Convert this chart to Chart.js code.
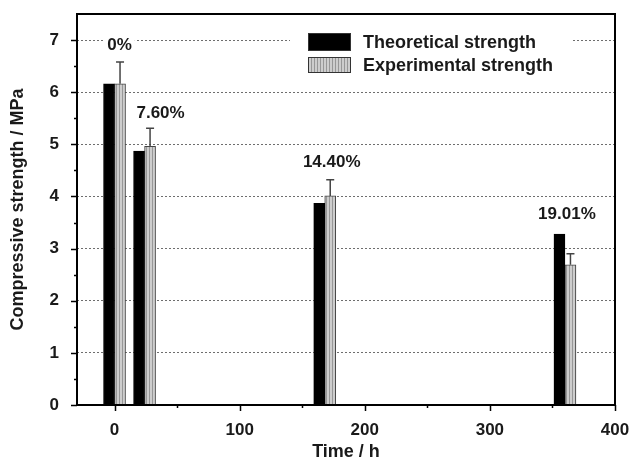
<!DOCTYPE html>
<html>
<head>
<meta charset="utf-8">
<script src="https://cdn.jsdelivr.net/npm/chart.js@4.4.0/dist/chart.umd.min.js"></script>
<style>
  html, body { margin: 0; padding: 0; background: #fff; }
</style>
</head>
<body>
<canvas id="strengthChart" width="633" height="463"></canvas>
<script>
// values
const timeHours = [0, 24, 168, 360];
const theoretical = [6.16, 4.87, 3.87, 3.28];
const experimental = [6.16, 4.96, 4.01, 2.69];
const expError = [0.42, 0.35, 0.31, 0.21];
const lossLabels = ['0%', '7.60%', '14.40%', '19.01%'];
const seriesNames = ['Theoretical strength', 'Experimental strength'];
const xTickValues = [0, 50, 100, 150, 200, 250, 300, 350, 400];

const FONT = 'Arial, "Liberation Sans", sans-serif';

// light grey with fine vertical hatching, like the printed bars
function makeHatch() {
  const c = document.createElement('canvas');
  c.width = 3; c.height = 1;
  const g = c.getContext('2d');
  g.fillStyle = '#cdcdcd';
  g.fillRect(0, 0, 3, 1);
  g.fillStyle = '#979797';
  g.fillRect(2, 0, 1, 1);
  return g.createPattern(c, 'repeat');
}

const decor = {
  id: 'decor',
  afterDatasetsDraw(chart) {
    const ctx = chart.ctx;
    const y = chart.scales.y;
    const meta = chart.getDatasetMeta(1);
    ctx.save();
    ctx.strokeStyle = '#444';
    ctx.lineWidth = 1.5;
    meta.data.forEach((bar, i) => {
      const top = y.getPixelForValue(experimental[i] + expError[i]);
      ctx.beginPath();
      ctx.moveTo(bar.x, bar.y);
      ctx.lineTo(bar.x, top);
      ctx.moveTo(bar.x - 4, top);
      ctx.lineTo(bar.x + 4, top);
      ctx.stroke();
    });
    ctx.restore();
  },
  afterDraw(chart) {
    const ctx = chart.ctx;
    const area = chart.chartArea;
    const x = chart.scales.x;
    const y = chart.scales.y;
    ctx.save();

    // percentage labels above each group
    const shift = [[5, -17], [16, -15], [7, -17], [2, -20]];
    ctx.font = 'bold 17px ' + FONT;
    ctx.textAlign = 'center';
    ctx.textBaseline = 'middle';
    lossLabels.forEach((txt, i) => {
      const top = Math.max(theoretical[i], experimental[i] + expError[i]);
      const px = x.getPixelForValue(timeHours[i]) + shift[i][0];
      const py = y.getPixelForValue(top) + shift[i][1];
      const w = ctx.measureText(txt).width;
      ctx.fillStyle = '#fff';
      ctx.fillRect(px - w / 2 - 3, py - 9, w + 6, 18);
      ctx.fillStyle = '#1a1a1a';
      ctx.fillText(txt, px, py);
    });

    // legend
    ctx.fillStyle = '#fff';
    ctx.fillRect(290, 27, 282, 52);
    const boxes = chart.data.datasets;
    boxes.forEach((ds, i) => {
      const by = i === 0 ? 33 : 57;
      const bh = i === 0 ? 18 : 16;
      ctx.fillStyle = ds.backgroundColor;
      ctx.fillRect(308, by, 43, bh);
      ctx.strokeStyle = '#333';
      ctx.lineWidth = 1;
      ctx.strokeRect(308.5, by + 0.5, 42, bh - 1);
      ctx.fillStyle = '#1a1a1a';
      ctx.font = 'bold 18px ' + FONT;
      ctx.textAlign = 'left';
      ctx.fillText(ds.label, 363, by + bh / 2 + 1);
    });

    // tick marks: long at labelled values, short in between
    ctx.strokeStyle = '#000';
    ctx.lineWidth = 1.5;
    ctx.beginPath();
    for (let v = 0; v <= 7; v += 0.5) {
      const py = Math.round(y.getPixelForValue(v)) + 0.5;
      const len = Number.isInteger(v) ? 6 : 3;
      ctx.moveTo(area.left - len, py);
      ctx.lineTo(area.left, py);
    }
    xTickValues.forEach(v => {
      const px = Math.round(x.getPixelForValue(v)) + 0.5;
      const len = v % 100 === 0 ? 6 : 3;
      ctx.moveTo(px, area.bottom);
      ctx.lineTo(px, area.bottom + len);
    });
    ctx.stroke();

    // frame
    ctx.lineWidth = 2;
    ctx.strokeRect(area.left, area.top, area.right - area.left, area.bottom - area.top);
    ctx.restore();
  }
};

const hatch = makeHatch();

new Chart(document.getElementById('strengthChart'), {
  type: 'bar',
  data: {
    datasets: [
      {
        label: seriesNames[0],
        data: timeHours.map((t, i) => ({ x: t, y: theoretical[i] })),
        backgroundColor: '#000',
        borderColor: '#000',
        borderWidth: 1,
        barThickness: 11
      },
      {
        label: seriesNames[1],
        data: timeHours.map((t, i) => ({ x: t, y: experimental[i] })),
        backgroundColor: hatch,
        borderColor: '#444',
        borderWidth: 1,
        barThickness: 11
      }
    ]
  },
  options: {
    responsive: false,
    animation: false,
    layout: { padding: { top: 14, right: 18, left: 0, bottom: 0 } },
    plugins: { legend: { display: false }, tooltip: { enabled: false } },
    scales: {
      x: {
        type: 'linear',
        min: -30,
        max: 400,
        offset: false,
        grid: { display: false, offset: false, drawTicks: false },
        border: { display: false },
        afterBuildTicks: s => { s.ticks = xTickValues.map(v => ({ value: v })); },
        afterFit: s => { s.height = 58; s.paddingLeft = 0; s.paddingRight = 0; },
        ticks: {
          autoSkip: false,
          maxRotation: 0,
          padding: 15,
          color: '#1a1a1a',
          font: { family: FONT, size: 17, weight: 'bold' },
          callback: v => (v % 100 === 0 ? String(v) : '')
        },
        title: {
          display: true,
          text: 'Time / h',
          color: '#1a1a1a',
          font: { family: FONT, size: 18, weight: 'bold' },
          padding: { top: 0, bottom: 0 }
        }
      },
      y: {
        min: 0,
        max: 7.5,
        afterFit: s => { s.width = 77; s.paddingTop = 0; s.paddingBottom = 0; },
        grid: {
          drawTicks: false,
          lineWidth: 1,
          color: c => {
            const v = c.tick.value;
            return Number.isInteger(v) && v > 0 ? '#6e6e6e' : 'rgba(0,0,0,0)';
          }
        },
        border: { display: false, dash: [2, 2] },
        ticks: {
          stepSize: 0.5,
          autoSkip: false,
          padding: 18,
          color: '#1a1a1a',
          font: { family: FONT, size: 17, weight: 'bold' },
          callback: v => (Number.isInteger(v) ? String(v) : '')
        },
        title: {
          display: true,
          text: 'Compressive strength / MPa',
          color: '#1a1a1a',
          font: { family: FONT, size: 18, weight: 'bold' },
          padding: { top: 7, bottom: 0 }
        }
      }
    }
  },
  plugins: [decor]
});
</script>
</body>
</html>
